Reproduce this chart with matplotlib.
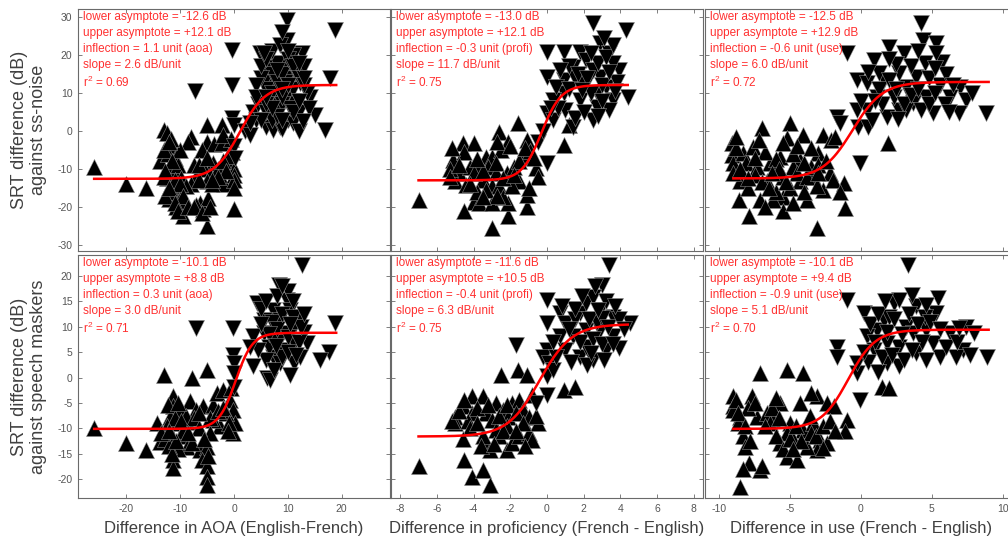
import numpy as np
import matplotlib
matplotlib.use("Agg")
import matplotlib.pyplot as plt

plt.rcParams['font.family'] = ['Liberation Sans', 'DejaVu Sans']
plt.rcParams['axes.unicode_minus'] = False
plt.rcParams['mathtext.fontset'] = 'custom'
plt.rcParams['mathtext.rm'] = 'Liberation Sans'

# ---------------- data ----------------
P1_UP = [(-26,-9.5), (-20,-14), (-16.3,-15), (-13,0.3), (-13.8,-8), (-12.5,-0.5), (-11.5,-4), (-12.2,-6), (-11,-7), (-12,-9.5),
         (-11,-11), (-12.5,-12.5), (-11.3,-14.5), (-10,-16.5), (-12,-18), (-10.8,-20), (-9.2,-19), (-9.4,-22.5), (-11.5,-16),
         (-10.5,-9), (-9.8,-12.5), (-8,-1.5), (-8.5,-3), (-6.3,-19), (-5.1,-25), (-5.7,-20.5), (-4.8,-17.7), (-5,1.5), (-5,-3),
         (-3.8,-3.5), (-2.3,1.6), (-2.3,-3.2), (-3.9,-8.5), (-5.5,-10), (-4.5,-11.5), (-5,-13.3), (-2.5,-12.5), (-1.8,-14),
         (-0.8,-8), (0,-10), (0,-11.5), (0,-13), (0,-20.5), (-0.3,-5.5), (-1.2,-6.5), (-7,-12), (-8,-14), (-7.5,-9), (-13,-12),
         (-10,-5), (-9,-14.5), (-3,-10), (-6,-5), (-12.8,-17), (-11.8,-2), (-10.2,-18.5), (-7,-19.5), (-4,-14), (-6.5,-13),
         (-13,-5), (-12,-3), (-11.5,-8), (-12.8,-10.5), (-11,-13), (-10,-14), (-9.5,-17), (-12,-15), (-11,-19), (-10.5,-21),
         (-8.5,-20), (-7.5,-20), (-6,-21.5), (-4.5,-20), (-2,-8), (-1.5,-10.5), (-3,-12), (-4,-13), (-0.5,-2), (0,-15),
         (-2,-1), (-6.5,-9), (-5,-7)]
P1_DOWN = [(-7.3,10.4), (-0.4,21.3), (-0.4,12.1), (-0.4,3.3), (0,1.5), (9.8,29.2), (18.8,26.6), (9.8,24), (4.8,20.4), (12.6,20.4),
           (17.9,13.9), (17,0.3), (15.1,4.2), (14.2,9), (6,16.9), (7.3,12.5), (5,9), (7.5,8), (8.6,5.5), (10,3), (6,1), (7.3,0.3),
           (8.6,1), (11,8), (12.3,12.5), (9.8,17), (11,20), (3.5,5), (4.5,7), (6,5), (8,18), (10,14), (11.5,15), (13,17), (8.5,10),
           (10,10), (12,5), (9,0.5), (11,2), (5.5,13), (7,15), (13.5,10), (12,0), (4,3), (6,11), (9,7), (14,6), (2,0), (3,-1),
           (7,21), (8.5,22.5), (5,14), (11,11), (10.5,6), (7,3), (12.8,2.5), (9.5,13), (0,-4), (0.2,-7),
           (4,12), (5,17), (6,19), (7,10), (8,13), (9,15), (10,19), (11,17), (12,14), (13,12), (6,7), (8,4), (9,9), (10,12),
           (11,5), (12,8), (13,14), (5,3), (4,9), (9,3), (10,21), (8,16), (7,6), (3,2), (6,9), (9,11), (12,18), (5.5,20.5), (9,26)]

P2_UP = [(-7,-18.2), (-4.6,-3.2), (-4,-3.2), (-5.1,-7.6), (-4.8,-11.1), (-5,-13.3), (-4.4,-14.2), (-4,-18.6), (-4.5,-21.2),
         (-3.3,-6.8), (-3,-6.8), (-2.6,-0.2), (-1.6,2), (-2.1,-2.8), (-1.1,-2.4), (-3,-25.6), (-2.1,-22.5), (-2.1,-19), (-1.1,-19.9),
         (-1.1,-16.8), (-1.5,-13.3), (-0.6,-9.8), (0.9,-3.7), (1.2,1.6), (-3.7,-9.4), (-3.2,-9.4), (-2.8,-11.1), (-3.5,-12.9),
         (-3,-14.6), (-2.6,-14.6), (-2.2,-11.1), (-3.7,-19), (-3,-19), (-2.4,-17.3), (-1.9,-14.6), (-1.8,-9.4), (-1.3,-6.8),
         (-0.9,-5.4), (-4.2,-9.5), (-5.3,-10), (-2.5,-5), (-3.8,-16), (-1.5,-8), (-4.5,-5.5), (-2.7,-3), (-0.5,-12),
         (-5.3,-12), (-4.8,-9), (-4,-11), (-3.5,-10.5), (-2.8,-8.5), (-2.4,-12.5), (-1.8,-11.5), (-3.3,-15.5), (-2.7,-17),
         (-3.5,-17.5), (-4.2,-14), (-1.2,-4.5), (-2,-4), (-3.8,-7.5), (-1,-15), (-0.7,-7), (-5.2,-4.5)]
P2_DOWN = [(2.5,28.3), (4.3,26.6), (0,20.9), (0.9,20.9), (1.8,20.9), (2.9,23.1), (3.4,20.4), (0,14.3), (0.9,13.4), (0,4.6),
           (0.3,2.9), (0,-8.5), (1.4,1.1), (3.9,16), (4.4,9), (2.5,2.9), (1.8,8.2), (2.7,9.9), (3.2,11.7), (3.6,8.2), (2.1,12.5),
           (2.9,14.3), (1.4,16.9), (2.1,18.7), (3.6,17.8), (0.9,9.9), (0.3,8.2), (1.8,12.5), (2.7,6.4), (3.4,5.5), (1,5.5),
           (-0.5,-3), (-0.2,0), (1.5,14), (2.5,16), (3,12), (0.5,11.5), (3.8,13),
           (1.2,17), (1.7,15), (2.2,14), (2.8,18), (3.2,19.5), (3.6,22.5), (2.4,10), (3,8), (3.7,10.5), (1.2,11), (0.6,6),
           (0.2,6), (1.5,3.5), (2,5), (2.8,4), (1.9,10.8), (3.4,15.5), (0.7,16), (2.4,20.5), (3.1,24.5)]

P3_UP = [(-9.1,-3.2), (-9.1,-6.3), (-9,-8.5), (-8.3,-5.9), (-7.6,-4.1), (-7,0.7), (-8.1,-8.5), (-8.5,-13.3), (-8.6,-18.2),
         (-7.9,-22.5), (-7.1,-18.2), (-6.6,-13.3), (-5.7,-6.8), (-5,2), (-5.2,-1.9), (-5.5,-3.2), (-4.1,-1.1), (-4.3,-7.6),
         (-4.8,-9.4), (-5.5,-17.3), (-5.5,-21.2), (-4.3,-13.3), (-3.8,-18.2), (-3.1,-25.6), (-2.7,-1.1), (-2.1,-2.4), (-3,-5.9),
         (-3.4,-12), (-2.7,-15.5), (-1.2,-13.8), (-1.1,-20.4), (1.9,-3.2), (-6.4,-8.5), (-7.3,-9.4), (-6.2,-18.2), (-4.5,-11.1),
         (-3.8,-12), (-3.1,-14.6), (-8,-15), (-7.5,-11.5), (-6,-16), (-5,-15), (-4,-16), (-2.2,-11), (-9,-11), (-6.8,-5.5),
         (-3.5,-9.5), (-5.5,-12),
         (-8.8,-4.5), (-8.5,-10), (-8,-12.5), (-7.5,-7), (-7,-13.5), (-6.5,-15), (-6,-7.5), (-5.8,-10), (-4.8,-6), (-4.5,-4),
         (-4,-8.5), (-3.5,-4.5), (-3,-9), (-2.5,-8), (-2,-13), (-3,-11), (-6.8,-20), (-4.8,-19), (-1.8,-1.5), (-1.5,-16),
         (-8.8,-1.5), (-7.2,-2.5), (-6.3,-11), (-5.3,-13.5)]
P3_DOWN = [(-1,20.4), (-1.7,3.8), (-1.5,2), (-0.1,-8.5), (-0.2,1.1), (-0.3,5.5), (-0.3,13.4), (0.9,18.7), (2,22.2), (3,20.4),
           (4.2,28.3), (4.4,23.9), (5.3,23.1), (5.7,18.2), (5.6,12.1), (7,11.7), (6.3,9), (7.4,8.2), (6.9,4.6), (8.8,4.6),
           (5.1,4.6), (3.9,9), (3.2,11.7), (2.7,15.2), (1.6,13.4), (1.1,9), (0.4,5.5), (1.8,3.8), (2.7,5.5), (3.7,7.3), (4.6,9),
           (2.3,9), (1.3,15.2), (0.4,12.5), (3.9,14.3), (3.2,5.5), (4.5,18), (2.5,17.5), (0.5,1), (1.5,7), (4.8,14), (6,15),
           (0,8), (0.8,3), (1.3,11), (2,13.5), (2.5,11), (3,7), (3.5,9.5), (4,11), (4.2,5.5), (4.8,7), (5.2,10), (5.9,7),
           (6.5,12), (2,19), (3.5,17), (4,21), (5.3,20.5), (1,8), (0.5,15.5), (6.2,5), (7.8,10), (5.2,16.5), (2.6,3.2)]

P4_UP = [(-26.1,-10), (-20.1,-12.8), (-16.3,-14.2), (-13,0.5), (-7.9,-0.1), (-5.1,1.5), (-8.2,-4.7), (-11.3,-3.7), (-11.3,-5.7),
         (-11.9,-7.7), (-10.1,-6.4), (-10.7,-9), (-12.5,-9.6), (-11.9,-11.6), (-10.1,-11.6), (-8.8,-13.6), (-11.3,-16.2),
         (-11.3,-17.8), (-6.3,-14.2), (-5.1,-13.6), (-6,-16.2), (-5.1,-17.5), (-5.1,-19.5), (-5.1,-21.1), (-5.7,-5.7), (-3.9,-5.4),
         (-3.2,-3.1), (-2,-2.4), (-2.6,-9.6), (-0.7,-4.4), (-0.1,-6.4), (0.2,-9), (-0.1,-11), (-7,-6.4), (-8.8,-8.7),
         (-13.8,-12.6), (-14.4,-9), (-7.9,-12.9), (-3.9,-8.3), (-9.5,-10.5), (-12.8,-12), (-10.5,-14), (-4.5,-11), (-1.5,-7),
         (-9,-7.5),
         (-12.2,-5.5), (-11,-8), (-10.5,-5), (-12,-13.5), (-11.5,-15), (-10.8,-12.5), (-9.8,-8.5), (-7.5,-8), (-6.5,-10),
         (-5.5,-12), (-4.8,-15.5), (-4.5,-8), (-3,-6.5), (-2,-6), (-1,-9), (-0.5,-2), (-13.5,-11), (-12,-10.5), (-1.2,-10.5),
         (-6.5,-7), (-8.5,-11)]
P4_DOWN = [(12.6,22.2), (-7,9.7), (-0.1,9.7), (-0.1,4.5), (0,2.8), (0,0.9), (0,-1.8), (8.3,18.2), (18.8,10.7), (17.6,5.1),
           (16,3.5), (13.5,6.8), (4.2,14.6), (3.6,2.2), (6.1,-0.1), (6.7,-0.5), (7.3,4.1), (9.2,5.4), (11.1,6.8), (5.5,8.7),
           (9.2,8.7), (11.1,10), (12.3,12), (7.3,13.3), (9.8,15.3), (10.4,13.3), (5.5,11.4), (8.6,2.8), (11.1,2.8), (12.3,4.1),
           (8.6,11.4), (3.6,8.1), (10,17), (6.5,6), (13,9), (8,7),
           (5,13.5), (6,15), (7,11), (8,9.5), (9,12.5), (10,8), (11,12), (12,7), (6,3.5), (7.5,1.5), (9,4), (10,5), (11.5,4.5),
           (12.5,10), (8,16), (9,18), (11,15), (6.5,8.5), (4.5,5.5), (10.5,0.5), (13,12.5), (7.8,6.2), (10.5,10.5), (3,6),
           (5,10.5)]

P5_UP = [(-7,-17.5), (-4.5,-16.2), (-4.1,-19.5), (-3.5,-18.2), (-3.1,-21.1), (-2.5,0.5), (-1.6,1.5), (-1.1,0.5), (0.9,-2.4),
         (1.5,-1.8), (-5,-7.7), (-5,-9), (-4.6,-5.7), (-4.1,-3.7), (-3.5,-3.7), (-4.1,-7), (-3.3,-7), (-2.8,-5.1), (-2.4,-6.4),
         (-1.9,-5.1), (-1.5,-4.4), (-1.3,-6.4), (-1,-7.7), (-3,-8.3), (-2.1,-7.7), (-3.3,-12.9), (-3.1,-14.2), (-2.6,-11.6),
         (-2.2,-14.2), (-1.9,-12.9), (-1.5,-11.6), (-1,-11), (-0.8,-12.3), (-2.8,-10.3), (-3.5,-11.6), (-4.3,-8.5), (-3.8,-6),
         (-0.5,-9), (-2.2,-9.5),
         (-5.2,-8.5), (-4.8,-6.5), (-4.5,-4.5), (-4.2,-10), (-3.8,-9), (-3.2,-5.5), (-2.6,-7.5), (-2.2,-5.5), (-1.7,-7),
         (-1.3,-9), (-3.6,-13.5), (-2.9,-13), (-2.4,-10.5), (-1.7,-10.5), (-0.6,-7.5), (-4.6,-12), (-1.2,-13.5), (-0.8,-3.5)]
P5_DOWN = [(3.4,22.2), (3,18.2), (0,15.3), (0,10.7), (-1.7,6.4), (0,5.4), (-0.2,4.1), (0.1,2.8), (0,0.2), (0.3,1.5), (4.5,10.7),
           (3.9,5.8), (0.7,12.7), (1,10.7), (1.8,12.7), (2.1,14.6), (2.5,15.9), (2.9,13.3), (3.6,12), (1.4,8.1), (2.1,9.4),
           (2.9,9.4), (3.6,8.1), (1,5.4), (1.8,4.1), (2.5,3.5), (3.2,5.4), (0.7,8.1), (2.1,6.1), (0,-3.4), (-0.6,-5), (1.5,11.5),
           (2.7,11), (3.2,15),
           (1.5,13.5), (2.3,11.5), (3,11.8), (3.3,10), (3.9,11.5), (1.2,9.5), (1.8,7), (2.5,7.5), (3,6.5), (3.6,6.5), (0.5,4),
           (1.3,3), (2.2,2.5), (2.8,13.2), (3.7,14), (1.9,16), (2.6,18), (0.3,7), (0.8,14), (4.2,9.5), (3.1,3.5), (2.4,4.8)]

P6_UP = [(-9,-3.7), (-9,-5.7), (-9,-6.4), (-8.5,-7.7), (-8.3,-11.6), (-8.2,-13.6), (-7.9,-16.9), (-8.5,-21.5), (-7.1,-18.2),
         (-7.7,-3.7), (-7.1,0.9), (-7.3,-7.7), (-6.6,-7), (-6.2,-8.3), (-5.7,-5.1), (-5.2,1.5), (-4.1,0.9), (-4.3,-5.1), (-5,-9),
         (-5.2,-11), (-5.7,-12.9), (-5.2,-15.6), (-4.5,-16.2), (-4.1,-10.3), (-3.4,-9), (-3.1,-3.7), (-2.4,-5.1), (-1.9,-5.7),
         (-2.9,-12.3), (-2.4,-12.9), (-3.1,-14.2), (-3.8,-13.6), (-1,-8.3), (-1.1,-10.6), (1.5,-1.8), (2,-2.1), (-6.4,-9),
         (-8,-6), (-6,-11.5), (-4.8,-12), (-3.5,-11), (-8.7,-9),
         (-8.8,-4.5), (-8.7,-7), (-8.2,-9.5), (-7.8,-12.5), (-7.5,-5), (-6.8,-9.5), (-6.3,-6), (-5.8,-8), (-5.5,-14), (-5,-12),
         (-4.6,-9.5), (-4.2,-12.5), (-3.6,-7.5), (-3.2,-11.5), (-2.7,-9.5), (-2.2,-8.5), (-1.8,-10.5), (-8.3,-18), (-7,-17.5),
         (-4.8,-14), (-6,-4), (-3.5,-3), (-2.7,-13.8)]
P6_DOWN = [(3.3,22.2), (-1,15.3), (5.4,15.6), (-1.7,6.1), (-1.7,4.1), (-0.1,-4.4), (-0.3,0.9), (-0.3,2.8), (0.2,12.7), (1.1,9.4),
           (2.3,14.6), (2.7,15.3), (3.9,14), (5.3,12.7), (6.3,8.7), (7.4,10), (7.2,5.4), (6.7,4.1), (8.9,4.1), (5.6,4.1), (3.9,4.8),
           (2.7,6.1), (1.8,6.8), (3.2,10), (4.6,9.4), (1.6,11.4), (0.4,8.1), (0.9,5.4), (1.8,2.8), (2.7,2.2), (3.7,8.7), (5.1,6.8),
           (4.6,3.5), (0.5,3), (2,12), (4.5,12), (1.2,1),
           (0.6,10.5), (1.2,12.5), (1.8,9), (2.3,11.5), (2.9,8.5), (3.4,12.5), (4,10.5), (4.3,7), (4.9,11), (5.6,9.5), (6,6),
           (6.8,7), (1,7), (1.5,4), (2.2,4.5), (3,3.5), (3.6,5.5), (0.2,5), (1.7,15), (3.6,16.3), (4.6,14.3), (7.7,4.5),
           (6.9,9.7), (8,8.7)]

UPS = [P1_UP, P2_UP, P3_UP, P4_UP, P5_UP, P6_UP]
DOWNS = [P1_DOWN, P2_DOWN, P3_DOWN, P4_DOWN, P5_DOWN, P6_DOWN]

LOWER = [-12.6, -13.0, -12.5, -10.1, -11.6, -10.1]
UPPER = [12.1, 12.1, 12.9, 8.8, 10.5, 9.4]
INFLECTION = [1.1, -0.3, -0.6, 0.3, -0.4, -0.9]
SLOPE = [2.6, 11.7, 6.0, 3.0, 6.3, 5.1]
R2 = [0.69, 0.75, 0.72, 0.71, 0.75, 0.70]
UNIT = ["aoa", "profi", "use", "aoa", "profi", "use"]
CURVE_X = [(-26, 19), (-7, 4.4), (-9, 9), (-26, 19), (-7, 4.4), (-9, 9)]

XLABELS = ["Difference in AOA (English-French)", "Difference in proficiency (French - English)",
           "Difference in use (French - English)"]
YLABELS = ["SRT difference (dB)\nagainst ss-noise", "SRT difference (dB)\nagainst speech maskers"]
XTICKS = [[-20, -10, 0, 10, 20], [-8, -6, -4, -2, 0, 2, 4, 6, 8], [-10, -5, 0, 5, 10]]
XLIMS = [(-29, 29), (-8.5, 8.5), (-11, 11)]
YTICKS = [[-30, -20, -10, 0, 10, 20, 30], [-20, -15, -10, -5, 0, 5, 10, 15, 20]]
YLIMS = [(-31.6, 32.1), (-23.7, 24.1)]

# ---------------- figure ----------------
W, H = 1008, 541
fig = plt.figure(figsize=(W / 100, H / 100), dpi=100)

col_left = [78, 391, 705]
col_w = 312
row_top = [9, 255]
row_h = [242, 243]

frame_col = '#6a6a6a'
tick_col = '#555555'
red = '#ff3030'

for i in range(6):
    r, c = divmod(i, 3)
    left = col_left[c] / W
    bottom = 1 - (row_top[r] + row_h[r]) / H
    ax = fig.add_axes([left, bottom, col_w / W, row_h[r] / H])
    ax.set_xlim(*XLIMS[c])
    ax.set_ylim(*YLIMS[r])
    ax.set_xticks(XTICKS[c])
    ax.set_yticks(YTICKS[r])
    ax.tick_params(direction='in', length=3, width=0.6, color=frame_col, top=True, right=True,
                   labelsize=7.5, labelcolor=tick_col, pad=4)
    for s in ax.spines.values():
        s.set_color(frame_col)
        s.set_linewidth(0.8)
    if r == 0:
        ax.set_xticklabels([])
    else:
        ax.set_xlabel(XLABELS[c], fontsize=12, color='#404040', labelpad=5)
    if c != 0:
        ax.set_yticklabels([])

    up = np.array(UPS[i])
    dn = np.array(DOWNS[i])
    ax.scatter(up[:, 0], up[:, 1], marker='^', s=135, c='black', edgecolors='#9a9a9a', linewidths=0.35, zorder=2)
    ax.scatter(dn[:, 0], dn[:, 1], marker='v', s=135, c='black', edgecolors='#9a9a9a', linewidths=0.35, zorder=2)

    lo, hi = LOWER[i], UPPER[i]
    k = 4 * SLOPE[i] / (hi - lo)
    xx = np.linspace(CURVE_X[i][0], CURVE_X[i][1], 300)
    yy = lo + (hi - lo) / (1 + np.exp(-k * (xx - INFLECTION[i])))
    ax.plot(xx, yy, color='#ff0000', lw=1.8, zorder=3)

    lines = [f"lower asymptote = {lo:.1f} dB",
             f"upper asymptote = +{hi:.1f} dB",
             f"inflection = {INFLECTION[i]:.1f} unit ({UNIT[i]})",
             f"slope = {SLOPE[i]:.1f} dB/unit",
             f"r$^2$ = {R2[i]:.2f}"]
    offs = [8, 24, 40, 56, 73]
    for t, o in zip(lines, offs):
        ax.text(5 / col_w, 1 - o / row_h[r], t, transform=ax.transAxes, ha='left', va='center',
                fontsize=8.5, color=red, zorder=4)

for r in range(2):
    yc = 1 - (row_top[r] + row_h[r] / 2) / H
    fig.text(29 / W, yc, YLABELS[r], rotation=90, ha='center', va='center', fontsize=13,
             color='#404040', linespacing=1.15, multialignment='center')

fig.savefig('out.png', dpi=100)
